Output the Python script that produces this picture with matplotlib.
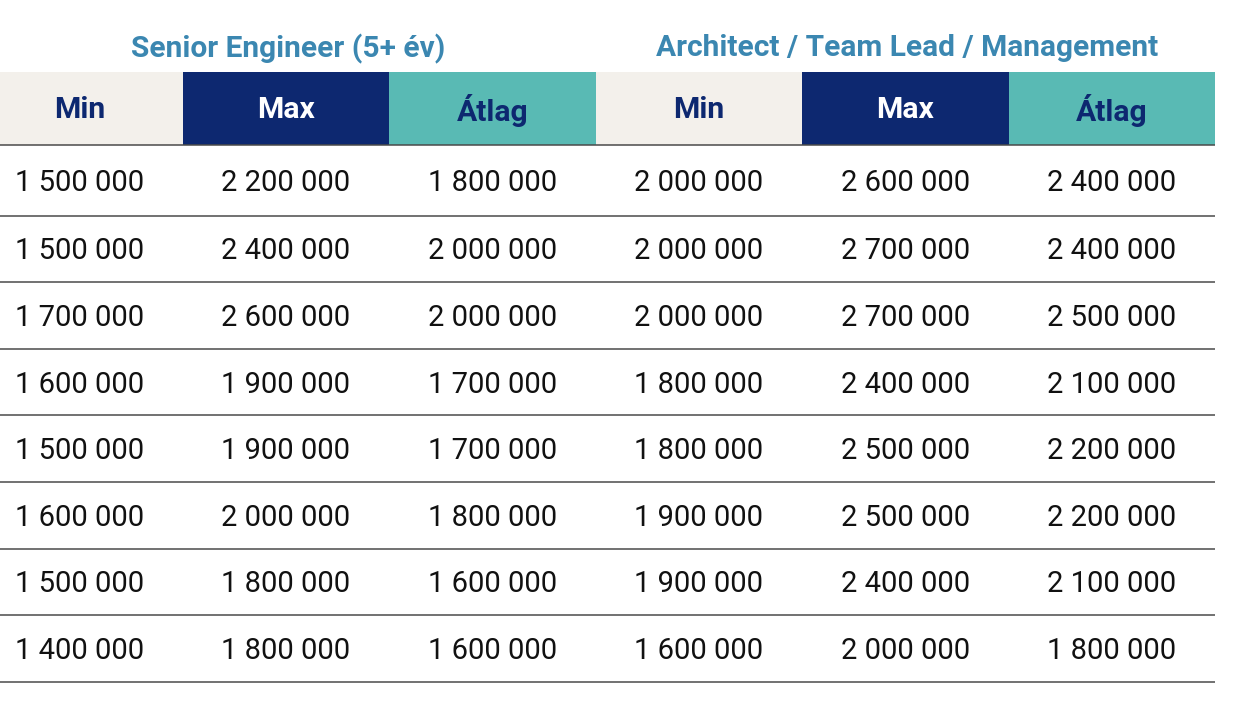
import matplotlib.pyplot as plt
from matplotlib.patches import Rectangle

plt.rcParams['font.family'] = ['Roboto', 'DejaVu Sans']

groups = ['Senior Engineer (5+ év)', 'Architect / Team Lead / Management']
columns = ['Min', 'Max', 'Átlag']

senior_min = [1500000, 1500000, 1700000, 1600000, 1500000, 1600000, 1500000, 1400000]
senior_max = [2200000, 2400000, 2600000, 1900000, 1900000, 2000000, 1800000, 1800000]
senior_avg = [1800000, 2000000, 2000000, 1700000, 1700000, 1800000, 1600000, 1600000]
arch_min = [2000000, 2000000, 2000000, 1800000, 1800000, 1900000, 1900000, 1600000]
arch_max = [2600000, 2700000, 2700000, 2400000, 2500000, 2500000, 2400000, 2000000]
arch_avg = [2400000, 2400000, 2500000, 2100000, 2200000, 2200000, 2100000, 1800000]

table = [senior_min, senior_max, senior_avg, arch_min, arch_max, arch_avg]

navy = '#0d2870'
teal = '#59bab4'
light = '#f3f0eb'
title_col = '#3b87b1'
head_bg = [light, navy, teal]
head_fg = [navy, 'white', navy]


def fmt(v):
    return f'{v:,}'.replace(',', ' ')


W, H = 1240, 708
fig = plt.figure(figsize=(W / 100, H / 100), dpi=100)
ax = fig.add_axes([0, 0, 1, 1])
ax.set_xlim(0, W)
ax.set_ylim(H, 0)
ax.axis('off')

x0 = -24
cw = 206.5
head_top, head_bot = 72, 145
first_row = 70.5
rh = 66.6
ncols = len(table)
nrows = len(senior_min)
right = x0 + cw * ncols

# group titles
for g, name in enumerate(groups):
    cx = x0 + cw * (3 * g + 1.5) + 2
    ax.text(cx, 48.5, name, ha='center', va='center', fontsize=21.5,
            fontweight='bold', color=title_col)

# header cells
for c in range(ncols):
    k = c % 3
    ax.add_patch(Rectangle((x0 + c * cw, head_top), cw, head_bot - head_top,
                           facecolor=head_bg[k], edgecolor='none'))
    ax.text(x0 + (c + 0.5) * cw, (head_top + head_bot) / 2 + 2, columns[k],
            ha='center', va='center', fontsize=21.7, fontweight='bold',
            color=head_fg[k])

# row boundaries
bounds = [head_bot, head_bot + first_row]
for r in range(1, nrows):
    bounds.append(bounds[-1] + rh)

for y in bounds:
    ax.plot([0, right], [y, y], color='#4a4a4a', lw=1.1, solid_capstyle='butt')

for r in range(nrows):
    cy = (bounds[r] + bounds[r + 1]) / 2 + 2.5
    for c in range(ncols):
        ax.text(x0 + (c + 0.5) * cw, cy, fmt(table[c][r]), ha='center',
                va='center', fontsize=21, color='#111111')

fig.savefig('out.png', dpi=100)
